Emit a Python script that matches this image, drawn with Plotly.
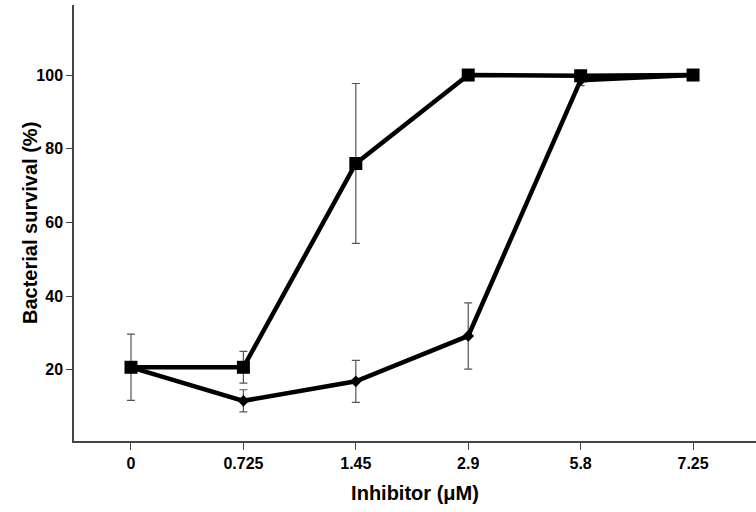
import plotly.graph_objects as go

categories = ["0", "0.725", "1.45", "2.9", "5.8", "7.25"]
square_vals = [20.7, 20.7, 76.0, 100.0, 99.8, 100.0]
square_err = [9.0, 4.3, 21.7, 0.0, 0.0, 0.0]
diamond_vals = [20.7, 11.6, 16.9, 29.2, 98.6, 100.0]
diamond_err = [0.0, 3.0, 5.7, 9.0, 1.5, 0.0]

fig = go.Figure()
fig.add_trace(go.Scatter(
    x=categories, y=diamond_vals, mode="lines+markers",
    line=dict(color="black", width=4.5),
    marker=dict(symbol="diamond", size=9, color="black"),
    error_y=dict(type="data", array=diamond_err, visible=True, color="#555555", thickness=1.2, width=4),
    showlegend=False,
))
fig.add_trace(go.Scatter(
    x=categories, y=square_vals, mode="lines+markers",
    line=dict(color="black", width=4.5),
    marker=dict(symbol="square", size=13, color="black"),
    error_y=dict(type="data", array=square_err, visible=True, color="#555555", thickness=1.2, width=4),
    showlegend=False,
))

fig.update_layout(
    width=756, height=512,
    margin=dict(l=74, r=0, t=5, b=71),
    paper_bgcolor="white", plot_bgcolor="white",
    font=dict(family="Liberation Sans, Arial, sans-serif", color="black"),
    xaxis=dict(
        type="category", range=[-0.507, 5.56], automargin=False,
        showgrid=False, zeroline=False,
        showline=True, linecolor="#444444", linewidth=1.5,
        ticks="outside", ticklen=7, tickcolor="#444444", tickwidth=1.2,
        tickfont=dict(size=16, weight="bold"),
        title=dict(text="Inhibitor (μM)", font=dict(size=20, weight="bold"), standoff=15),
    ),
    yaxis=dict(
        range=[0.7, 119], tickvals=[20, 40, 60, 80, 100], automargin=False,
        showgrid=False, zeroline=False,
        showline=True, linecolor="#444444", linewidth=1.5,
        ticks="outside", ticklen=6, tickcolor="#444444", tickwidth=1.2,
        tickfont=dict(size=16, weight="bold"),
    ),
    annotations=[dict(
        text="Bacterial survival (%)", textangle=-90,
        xref="paper", yref="paper", x=(30 - 74) / 682, y=0.5,
        xanchor="center", yanchor="middle", showarrow=False,
        font=dict(size=20, weight="bold"),
    )],
)

fig.write_html("out.html", config={"displayModeBar": False},
               post_script="document.body.style.margin='0px';")
